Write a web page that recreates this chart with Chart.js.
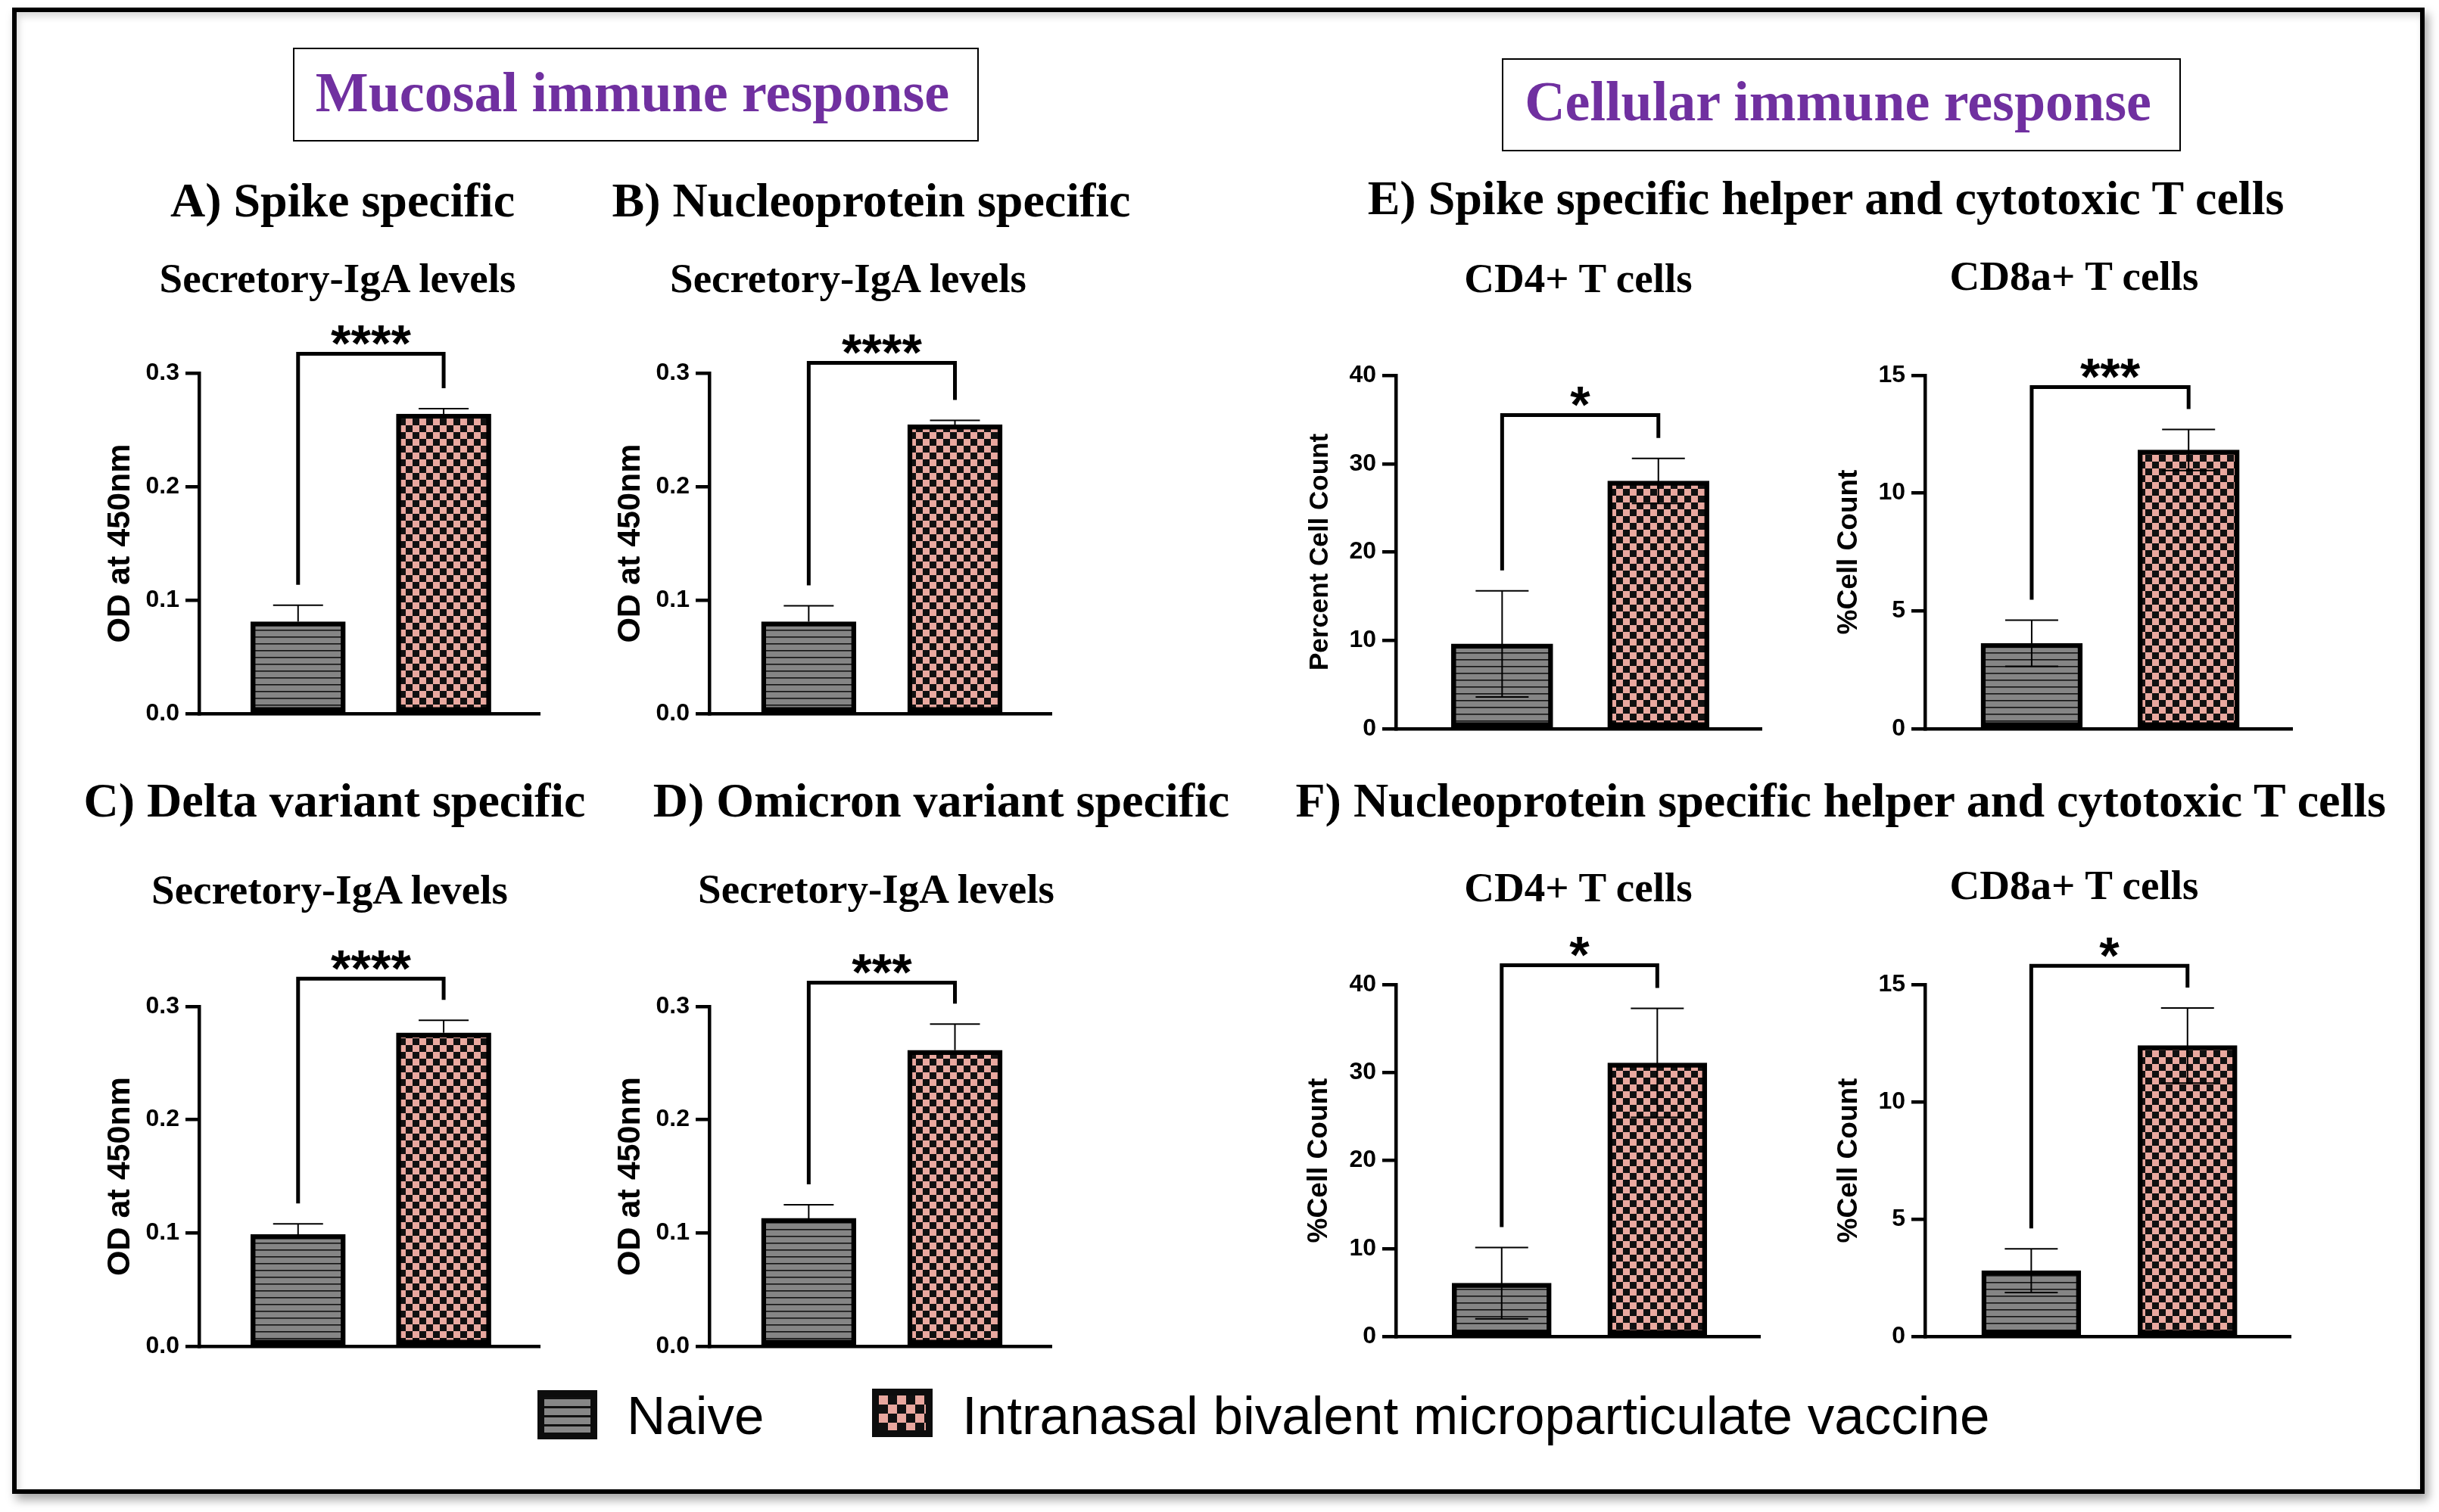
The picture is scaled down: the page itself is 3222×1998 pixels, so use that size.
<!DOCTYPE html>
<html><head><meta charset="utf-8">
<script src="https://cdn.jsdelivr.net/npm/chart.js@4.4.1/dist/chart.umd.min.js"></script>
<style>
html,body{margin:0;padding:0;background:#fff;}
#page{position:relative;width:3222px;height:1998px;overflow:hidden;background:#fff;}
.frame{position:absolute;left:16px;top:10px;width:3187px;height:1964px;box-sizing:border-box;border:6.5px solid #000;box-shadow:5px 8px 12px rgba(0,0,0,0.35), inset 3px 6px 10px rgba(0,0,0,0.15);}
.t{position:absolute;white-space:nowrap;line-height:1;}
.serif{font-family:'Liberation Serif','Times New Roman',serif;font-weight:bold;color:#000;}
.sans{font-family:'Liberation Sans',Arial,sans-serif;color:#000;}
.box{position:absolute;border:2.5px solid #000;box-sizing:border-box;}
canvas{position:absolute;}
.lg{position:absolute;box-sizing:border-box;border:9px solid #0d0d0d;}
</style></head><body><div id="page"><div class="frame"></div></div>
<script>
// ---------------- data ----------------
const groups = ['Naive', 'Intranasal bivalent microparticulate vaccine'];
const spikeIgA      = [0.081, 0.264];   const spikeIgASD   = [0.0145, 0.0046];
const nucleoIgA     = [0.081, 0.2545];  const nucleoIgASD  = [0.014, 0.0038];
const deltaIgA      = [0.0986, 0.2768]; const deltaIgASD   = [0.0094, 0.011];
const omicronIgA    = [0.113, 0.2614];  const omicronIgASD = [0.012, 0.023];
const spikeCD4      = [9.6, 28.05];     const spikeCD4SD   = [6.0, 2.55];
const spikeCD8      = [3.63, 11.83];    const spikeCD8SD   = [0.98, 0.87];
const nucleoCD4     = [6.05, 31.1];     const nucleoCD4SD  = [4.05, 6.2];
const nucleoCD8     = [2.8, 12.4];      const nucleoCD8SD  = [0.93, 1.6];
const significance  = ['****', '****', '****', '***', '*', '***', '*', '*'];
const bracketLevels = [0.317, 0.309, 0.3245, 0.321, 35.5, 14.5, 42.2, 15.8];
const odTicks  = [0, 0.1, 0.2, 0.3];
const cd4Ticks = [0, 10, 20, 30, 40];
const cd8Ticks = [0, 5, 10, 15];

// ---------------- layout ----------------
const page = document.getElementById('page');
function label(text, cx, baseline, size, cls, color, align) {
  const d = document.createElement('div');
  d.className = 't ' + cls;
  d.textContent = text;
  const k = cls === 'serif' ? 0.8375 : 0.8465;
  d.style.fontSize = size + 'px';
  d.style.top = (baseline - k * size) + 'px';
  d.style.left = cx + 'px';
  if (align !== 'left') d.style.transform = 'translateX(-50%)';
  if (color) d.style.color = color;
  page.appendChild(d);
}
function box(l, t, w, h) {
  const d = document.createElement('div');
  d.className = 'box';
  Object.assign(d.style, {left: l + 'px', top: t + 'px', width: w + 'px', height: h + 'px'});
  page.appendChild(d);
}
box(387, 63, 906, 124);
box(1984, 76.5, 897, 123);
label('Mucosal immune response', 835.5, 147.3, 74, 'serif', '#7030A0');
label('Cellular immune response', 2428, 159.4, 74, 'serif', '#7030A0');
label('A) Spike specific', 452.5, 287, 64, 'serif');
label('B) Nucleoprotein specific', 1151, 287, 64, 'serif');
label('Secretory-IgA levels', 446, 386, 55, 'serif');
label('Secretory-IgA levels', 1120.5, 386, 55, 'serif');
label('C) Delta variant specific', 442, 1080, 64, 'serif');
label('D) Omicron variant specific', 1243.5, 1080, 64, 'serif');
label('Secretory-IgA levels', 435.5, 1194, 55, 'serif');
label('Secretory-IgA levels', 1157.5, 1193, 55, 'serif');
label('E) Spike specific helper and cytotoxic T cells', 2412, 284, 64, 'serif');
label('CD4+ T cells', 2085, 386, 55, 'serif');
label('CD8a+ T cells', 2740, 383, 55, 'serif');
label('F) Nucleoprotein specific helper and cytotoxic T cells', 2431.7, 1080, 64, 'serif');
label('CD4+ T cells', 2085, 1191, 55, 'serif');
label('CD8a+ T cells', 2740, 1188, 55, 'serif');

// legend
function legendBox(l, t, w, h, bg) {
  const d = document.createElement('div');
  d.className = 'lg';
  Object.assign(d.style, {left: l + 'px', top: t + 'px', width: w + 'px', height: h + 'px'});
  Object.assign(d.style, bg);
  page.appendChild(d);
}
legendBox(710, 1837, 79, 65, {background: 'repeating-linear-gradient(180deg,#111 0 3px,#878787 3px 12px)'});
legendBox(1152, 1835, 80, 64, {backgroundColor: '#E9A89F',
  backgroundImage: 'conic-gradient(#111 25%, transparent 0 50%, #111 0 75%, transparent 0)',
  backgroundSize: '24px 24px'});
label(groups[0], 828, 1895, 71, 'sans', null, 'left');
label(groups[1], 1271, 1895, 71, 'sans', null, 'left');

// ---------------- charts ----------------
function patterns(ctx) {
  const a = document.createElement('canvas'); a.width = 8; a.height = 9;
  const ga = a.getContext('2d');
  ga.fillStyle = '#858585'; ga.fillRect(0, 0, 8, 9);
  ga.fillStyle = '#141414'; ga.fillRect(0, 0, 8, 1.6);
  const b = document.createElement('canvas'); b.width = 18; b.height = 18;
  const gb = b.getContext('2d');
  gb.fillStyle = '#E9A89F'; gb.fillRect(0, 0, 18, 18);
  gb.fillStyle = '#111'; gb.fillRect(0, 0, 9, 9); gb.fillRect(9, 9, 9, 9);
  return [ctx.createPattern(a, 'repeat'), ctx.createPattern(b, 'repeat')];
}

const annotPlugin = {
  id: 'annot',
  afterDraw(chart, args, o) {
    const ctx = chart.ctx, ys = chart.scales.y;
    const meta = chart.getDatasetMeta(0);
    ctx.save();
    ctx.strokeStyle = '#000';
    ctx.lineWidth = 2;
    const tops = [];
    o.mean.forEach((m, i) => {
      const x = meta.data[i].x;
      const yM = ys.getPixelForValue(m);
      const yT = ys.getPixelForValue(m + o.sd[i]);
      const yB = ys.getPixelForValue(m - o.sd[i]);
      const h = o.capW / 2;
      ctx.beginPath();
      ctx.moveTo(x, yM); ctx.lineTo(x, yT);
      ctx.moveTo(x - h, yT); ctx.lineTo(x + h, yT);
      if (o.both) {
        ctx.moveTo(x, yM); ctx.lineTo(x, yB);
        ctx.moveTo(x - h, yB); ctx.lineTo(x + h, yB);
      }
      ctx.stroke();
      tops.push({x: x, y: yT});
    });
    const by = ys.getPixelForValue(o.level);
    ctx.lineWidth = 5; ctx.lineJoin = 'miter'; ctx.lineCap = 'butt';
    ctx.beginPath();
    ctx.moveTo(tops[0].x, tops[0].y - 27);
    ctx.lineTo(tops[0].x, by);
    ctx.lineTo(tops[1].x, by);
    ctx.lineTo(tops[1].x, tops[1].y - 27);
    ctx.stroke();
    ctx.fillStyle = '#000';
    const fs = 68;
    ctx.font = 'bold ' + fs + 'px "Liberation Sans", Arial, sans-serif';
    ctx.textAlign = 'center'; ctx.textBaseline = 'alphabetic';
    ctx.fillText(o.stars, (tops[0].x + tops[1].x) / 2, by - 30 + 0.58 * fs);
    ctx.restore();
  }
};

const panels = [
  {mean: spikeIgA,   sd: spikeIgASD,   ticks: odTicks,  dec: 1, ax: 263,  right: 713,  top: 493,  bottom: 943,  title: 'OD at 450nm', tSize: 43, tDist: 104, both: false, barW: 125, capW: 66},
  {mean: nucleoIgA,  sd: nucleoIgASD,  ticks: odTicks,  dec: 1, ax: 937,  right: 1389, top: 493,  bottom: 943,  title: 'OD at 450nm', tSize: 43, tDist: 104, both: false, barW: 125, capW: 66},
  {mean: deltaIgA,   sd: deltaIgASD,   ticks: odTicks,  dec: 1, ax: 263,  right: 713,  top: 1330, bottom: 1779, title: 'OD at 450nm', tSize: 43, tDist: 104, both: false, barW: 125, capW: 66},
  {mean: omicronIgA, sd: omicronIgASD, ticks: odTicks,  dec: 1, ax: 937,  right: 1389, top: 1330, bottom: 1779, title: 'OD at 450nm', tSize: 43, tDist: 104, both: false, barW: 125, capW: 66},
  {mean: spikeCD4,   sd: spikeCD4SD,   ticks: cd4Ticks, dec: 0, ax: 1844, right: 2327, top: 496,  bottom: 963,  title: 'Percent Cell Count', tSize: 35, tDist: 100, both: true, barW: 134, capW: 70},
  {mean: spikeCD8,   sd: spikeCD8SD,   ticks: cd8Ticks, dec: 0, ax: 2543, right: 3028, top: 496,  bottom: 963,  title: '%Cell Count', tSize: 37, tDist: 100, both: true, barW: 134, capW: 70},
  {mean: nucleoCD4,  sd: nucleoCD4SD,  ticks: cd4Ticks, dec: 0, ax: 1844, right: 2325, top: 1301, bottom: 1766, title: '%Cell Count', tSize: 37, tDist: 101, both: true, barW: 131, capW: 70},
  {mean: nucleoCD8,  sd: nucleoCD8SD,  ticks: cd8Ticks, dec: 0, ax: 2543, right: 3026, top: 1301, bottom: 1766, title: '%Cell Count', tSize: 37, tDist: 100, both: true, barW: 131, capW: 70}
];

const AXW = 150, PT = 120, PB = 40, PR = 12;
panels.forEach((p, idx) => {
  const cv = document.createElement('canvas');
  const w = AXW + (p.right - p.ax) + PR;
  const h = PT + (p.bottom - p.top) + PB;
  cv.width = w; cv.height = h;
  cv.style.left = (p.ax - AXW) + 'px';
  cv.style.top = (p.top - PT) + 'px';
  cv.style.width = w + 'px'; cv.style.height = h + 'px';
  page.appendChild(cv);
  const ctx = cv.getContext('2d');
  const pats = patterns(ctx);
  const tPad = (AXW - p.tDist) - 0.6 * p.tSize;
  new Chart(ctx, {
    type: 'bar',
    data: {
      datasets: [{
        data: p.mean.map((v, i) => ({x: i + 1, y: v})),
        backgroundColor: pats,
        borderColor: '#000',
        borderWidth: 6.5,
        borderSkipped: false,
        barThickness: p.barW
      }]
    },
    options: {
      responsive: false, maintainAspectRatio: false, animation: false,
      devicePixelRatio: 1,
      layout: {padding: {left: 0, top: PT, right: PR, bottom: PB}},
      plugins: {
        legend: {display: false}, tooltip: {enabled: false},
        annot: {mean: p.mean, sd: p.sd, level: bracketLevels[idx], stars: significance[idx], both: p.both, capW: p.capW}
      },
      scales: {
        x: {
          type: 'linear', min: 0.32, max: 2.66, offset: false,
          afterFit: s => { s.height = 0; },
          ticks: {display: false},
          grid: {display: false, drawTicks: false, tickLength: 0},
          border: {display: true, width: 4.5, color: '#000'}
        },
        y: {
          min: p.ticks[0], max: p.ticks[p.ticks.length - 1],
          afterBuildTicks: s => { s.ticks = p.ticks.map(v => ({value: v})); },
          afterFit: s => { s.width = AXW; },
          ticks: {
            color: '#000', padding: 8,
            font: {family: '"Liberation Sans", Arial, sans-serif', size: 32, weight: 'bold'},
            callback: v => Number(v).toFixed(p.dec)
          },
          grid: {display: true, drawOnChartArea: false, drawTicks: true, tickLength: 18, lineWidth: 4.5, color: '#000'},
          border: {display: true, width: 4.5, color: '#000'},
          title: {
            display: true, text: p.title, color: '#000',
            font: {family: '"Liberation Sans", Arial, sans-serif', size: p.tSize, weight: 'bold'},
            padding: {top: tPad, bottom: 0}
          }
        }
      }
    },
    plugins: [annotPlugin]
  });
});
</script>
</body></html>
